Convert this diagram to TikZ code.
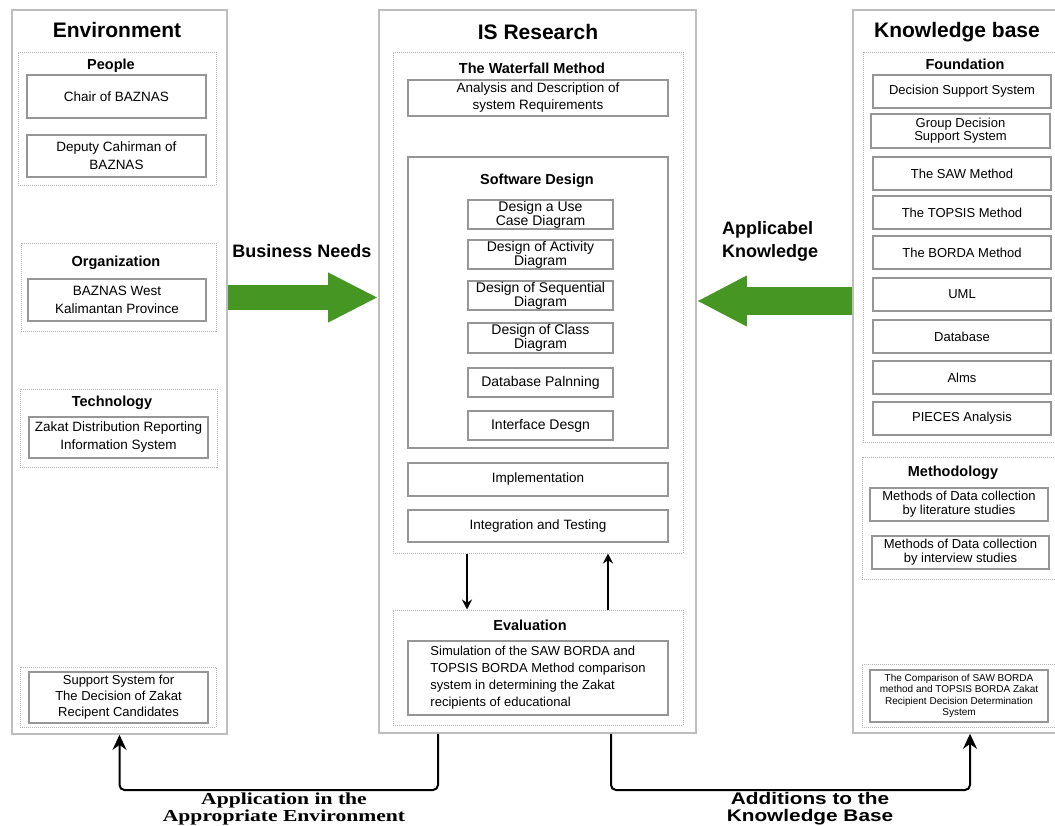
\documentclass[tikz,border=0pt]{standalone}
\usepackage{fontspec}
\setmainfont{Liberation Sans}
\newfontfamily\tmsfont{Liberation Serif}
\usetikzlibrary{arrows.meta,calc}
\definecolor{agreen}{RGB}{70,150,35}
\definecolor{outerc}{RGB}{190,190,190}
\definecolor{innerc}{RGB}{150,150,150}
\definecolor{dotc}{RGB}{180,180,180}
% \BX[style]{name}{x1}{y1}{x2}{y2}{text}
\newcommand\BX[7][ibox]{\node[#1,minimum width={(#5-#3)*1pt},minimum height={(#6-#4)*1pt}] (#2) at ({(#3+#5)/2},{(#4+#6)/2}) {#7};}
\begin{document}
\begin{tikzpicture}[x=1pt,y=-1pt,
 panel/.style={draw=outerc,line width=1.6pt,inner sep=0pt},
 dbox/.style={draw=dotc,densely dotted,line width=1pt,inner sep=0pt},
 ibox/.style={draw=innerc,line width=1.1pt,inner sep=0pt,align=center,font=\fontsize{13.5}{18}\selectfont},
 fbox/.style={ibox,font=\fontsize{13}{14}\selectfont},
 dsgn/.style={ibox,font=\fontsize{14}{12}\selectfont},
 ttl/.style={font=\fontsize{21}{24}\selectfont\bfseries,inner sep=0pt},
 sub/.style={font=\fontsize{14.5}{17}\selectfont\bfseries,inner sep=0pt},
 gl/.style={font=\fontsize{18}{23}\selectfont\bfseries,inner sep=0pt},
 sconn/.style={line width=1.8pt,-{Stealth[length=10pt,width=10pt]}},
 bconn/.style={line width=2pt,rounded corners=5pt,-{Stealth[length=15pt,width=14pt]}}
]
\fill[white] (0,0) rectangle (1055,825);
\clip (0,0) rectangle (1055,825);

% ---------------- Environment
\BX[panel]{env}{12}{10}{227}{734}{}
\node[ttl] (envt) at (117,30) {Environment};
\BX[dbox]{people}{18}{52}{216}{185}{}
\node[sub] (peoplet) at (111,66) {People};
\BX{chair}{27}{75}{206}{118}{Chair of BAZNAS}
\BX{deputy}{27}{135}{206}{177}{Deputy Cahirman of\\BAZNAS}
\BX[dbox]{org}{21}{243}{216}{331}{}
\node[sub] (orgt) at (116,263) {Organization};
\BX{baz}{28}{279}{206}{321}{BAZNAS West\\Kalimantan Province}
\BX[dbox]{tech}{20}{389}{217}{467}{}
\node[sub] (techt) at (112,403) {Technology};
\BX{zakat}{29}{417}{208}{458}{Zakat Distribution Reporting\\Information System}
\BX[dbox]{sup}{20}{667}{216}{727}{}
\BX[ibox,font=\fontsize{13}{16}\selectfont]{supt}{29}{672}{208}{723}{Support System for\\The Decision of Zakat\\Recipent Candidates}

% ---------------- IS Research
\BX[panel]{isr}{379}{10}{696}{733}{}
\node[ttl] (isrt) at (538,32) {IS Research};
\BX[dbox]{wf}{393}{52}{683}{553}{}
\node[sub] (wft) at (532,68) {The Waterfall Method};
\BX[ibox,font=\fontsize{13.5}{17}\selectfont]{ana}{408}{80}{668}{116}{Analysis and Description of\\system Requirements}
\BX[ibox]{sd}{408}{157}{668}{448}{}
\node[sub] (sdt) at (537,181) {Software Design};
\BX[dsgn,font=\fontsize{14}{10.5}\selectfont]{uc}{468}{200}{613}{229}{Design a Use\\Case Diagram}
\BX[dsgn,font=\fontsize{14}{13}\selectfont]{act}{468}{240}{613}{269}{Design of Activity\\Diagram}
\BX[dsgn]{seq}{468}{281}{613}{310}{Design of Sequential\\Diagram}
\BX[dsgn]{cls}{468}{323}{613}{353}{Design of Class\\Diagram}
\BX[dsgn]{dbp}{468}{368}{613}{397}{Database Palnning}
\BX[dsgn]{ifd}{468}{411}{613}{440}{Interface Desgn}
\BX{impl}{408}{463}{668}{496}{Implementation}
\BX{integ}{408}{510}{668}{542}{Integration and Testing}
\BX[dbox]{ev}{393}{610}{683}{725}{}
\node[sub] (evt) at (530,625) {Evaluation};
\BX[ibox,align=left,font=\fontsize{13}{17}\selectfont]{sim}{408}{641}{668}{715}{Simulation of the SAW BORDA and\\TOPSIS BORDA Method comparison\\system in determining the Zakat\\recipients of educational}

\coordinate (dn) at (467,0);
\coordinate (up) at (608,0);
\draw[sconn] (wf.south -| dn) -- (ev.north -| dn);
\draw[sconn] (ev.north -| up) -- (wf.south -| up);

% ---------------- Knowledge base
\BX[panel]{kb}{853}{10}{1087}{733}{}
\node[ttl] (kbt) at (957,32) {Knowledge base};
\BX[dbox]{fnd}{863}{52}{1080}{442}{}
\node[sub] (fndt) at (965,64) {Foundation};
\BX[fbox]{dss}{873}{75}{1051}{108}{Decision Support System}
\BX[fbox,font=\fontsize{13}{13}\selectfont]{gdss}{871}{114}{1050}{148}{Group Decision\\Support System}
\BX[fbox]{saw}{873}{157}{1051}{190}{The SAW Method}
\BX[fbox]{top}{873}{196}{1051}{229}{The TOPSIS Method}
\BX[fbox]{bor}{873}{236}{1051}{269}{The BORDA Method}
\BX[fbox]{uml}{873}{278}{1051}{311}{UML}
\BX[fbox]{dbk}{873}{320}{1051}{353}{Database}
\BX[fbox]{alms}{873}{361}{1051}{394}{Alms}
\BX[fbox]{pie}{873}{402}{1051}{435}{PIECES Analysis}
\BX[dbox]{meth}{862}{457}{1080}{579}{}
\node[sub] (metht) at (953,473) {Methodology};
\BX[fbox]{lit}{870}{488}{1048}{521}{Methods of Data collection\\by literature studies}
\BX[fbox]{itv}{872}{536}{1049}{569}{Methods of Data collection\\by interview studies}
\BX[dbox]{cmpd}{862}{664}{1080}{727}{}
\BX[ibox,font=\fontsize{10}{11.5}\selectfont]{cmp}{870}{670}{1048}{722}{The Comparison of SAW BORDA\\method and TOPSIS BORDA Zakat\\Recipient Decision Determination\\System}

% ---------------- green arrows
\coordinate (bn) at (0,297.5);
\coordinate (ak) at (0,301);
\draw[agreen,line width=25pt,-{Triangle[length=50pt,width=46pt]}] (env.east |- bn) -- (isr.west |- bn);
\draw[agreen,line width=28pt,-{Triangle[length=50pt,width=47pt]}] (kb.west |- ak) -- (isr.east |- ak);
\node[gl] (bnt) at (302,251) {Business Needs};
\node[gl,align=left,anchor=west] (akt) at (722,241) {Applicabel\\Knowledge};

% ---------------- bottom connectors
\coordinate (ap) at (438,790);
\coordinate (ad) at (611,790);
\draw[bconn] (isr.south -| ap) -- (ap) -| (env.south);
\draw[bconn] (isr.south -| ad) -- (ad) -| (kb.south);
\node[font=\tmsfont\bfseries\fontsize{16}{17}\selectfont,align=center,inner sep=0pt] (apl) at (284,809) {\scalebox{1.35}[1.05]{Application in the}\\\scalebox{1.35}[1.05]{Appropriate Environment}};
\node[font=\bfseries\fontsize{16}{17}\selectfont,align=center,inner sep=0pt] (adl) at (810,809) {\scalebox{1.3}[1.05]{Additions to the}\\\scalebox{1.3}[1.05]{Knowledge Base}};
\end{tikzpicture}
\end{document}
